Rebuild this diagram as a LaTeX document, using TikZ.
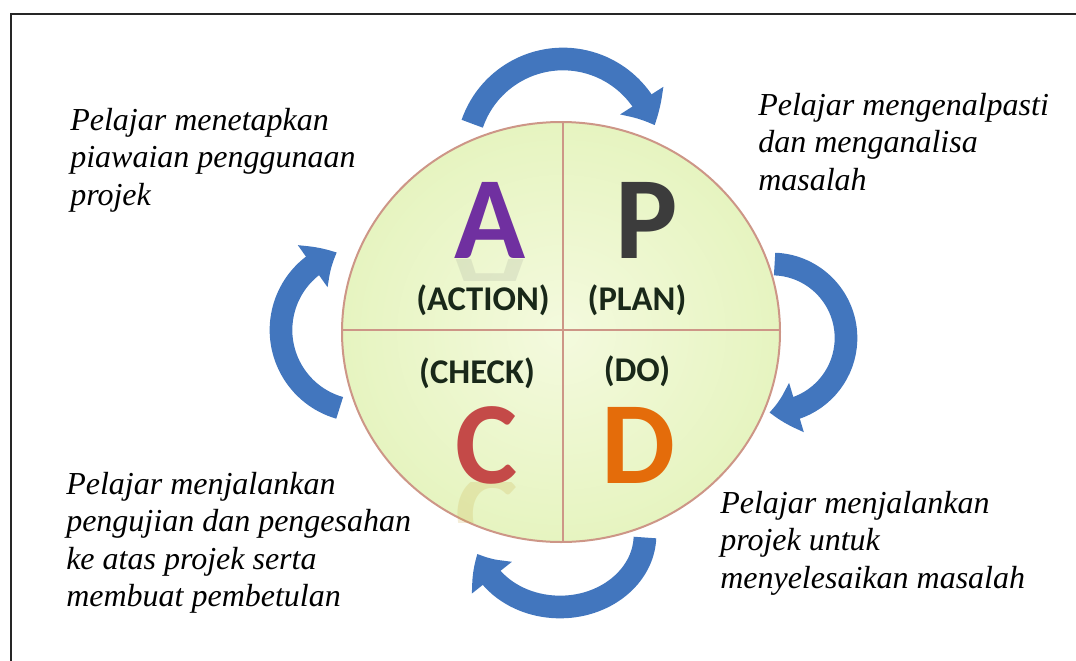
\documentclass[tikz,border=0pt]{standalone}
\usepackage{fontspec}
\setmainfont{Liberation Serif}
\newfontfamily\calib{Carlito}
\usetikzlibrary{arrows.meta,bending,calc,positioning}

\definecolor{cycblue}{RGB}{66,118,190}
\definecolor{ringc}{RGB}{205,150,135}
\definecolor{lime}{RGB}{230,244,192}
\definecolor{limein}{RGB}{244,250,222}
\definecolor{tagc}{RGB}{25,40,25}
\definecolor{actc}{RGB}{112,48,160}
\definecolor{planc}{RGB}{60,60,60}
\definecolor{chkc}{RGB}{196,74,72}
\definecolor{doc}{RGB}{228,108,10}

\begin{document}
\begin{tikzpicture}[x=0.75pt,y=-0.75pt]
	\tikzstyle{cyc} = [draw=cycblue, line width=17pt, -{Triangle[length=21pt,width=37pt,bend]}]
	\tikzstyle{note} = [font=\fontsize{24}{28}\selectfont\itshape, align=left, anchor=north west, inner sep=0pt]
	\tikzstyle{big} = [font=\calib\bfseries\fontsize{88}{88}\selectfont, inner sep=0pt]
	\tikzstyle{tag} = [font=\calib\bfseries\fontsize{26}{26}\selectfont, text=tagc, inner sep=0pt, anchor=base]
	
	\useasboundingbox (0,0) rectangle (1076,661);
	\draw[line width=1.5pt, black!85] (11,661) -- (11,14) -- (1076,14);
	
	% wheel
	\coordinate (mid) at (561,332);
	\shade[inner color=limein, outer color=lime] (mid) ellipse [x radius=219, y radius=210];
	\draw[ringc, line width=1.5pt] (mid) ellipse [x radius=219, y radius=210];
	\draw[ringc, line width=1.2pt] (563,122) -- (563,542);
	\draw[ringc, line width=1.2pt] (342,330) -- (780,330);
	
	% reflections
	\begin{scope}
		\clip (440,259) rectangle (540,280);
		\node[big, text=gray, opacity=0.15, yscale=-1] at (490,294) {A};
	\end{scope}
	\begin{scope}
		\clip (440,482) rectangle (540,522);
		\node[big, text=chkc!40!yellow!70!gray, opacity=0.2, yscale=-1] at (487,515) {C};
	\end{scope}
	
	\node[big, text=actc] (lA) at (490,220) {A};
	\node[big, text=planc] (lP) at (647,220) {P};
	\node[big, text=chkc] (lC) at (487,445) {C};
	\node[big, text=doc] (lD) at (638,445) {D};
	
	\node[tag] (tA) at (483,310) {(ACTION)};
	\node[tag] (tP) at (637,310) {(PLAN)};
	\node[tag] (tC) at (477,383) {(CHECK)};
	\node[tag] (tD) at (637,381) {(DO)};
	
	% cycle arrows
	\coordinate (ctop) at (563,155);
	\coordinate (crgt) at (772,338);
	\coordinate (cbot) at (560,535);
	\coordinate (clft) at (362,330);
	\coordinate (s1) at ($(ctop)+(199:96)$);
	\coordinate (s2) at ($(crgt)+(-88:74)$);
	\coordinate (s3) at ($(cbot)+(2:85 and 72)$);
	\coordinate (s4) at ($(clft)+(106:81)$);
	\draw[cyc] (s1) arc[start angle=199, end angle=342, radius=96];
	\draw[cyc] (s2) arc[start angle=-88, end angle=92, radius=74];
	\draw[cyc] (s3) arc[start angle=2, end angle=165, x radius=85, y radius=72];
	\draw[cyc] (s4) arc[start angle=106, end angle=252, radius=81];
	
	% notes
	\node[note] (nA) at (70,108) {Pelajar menetapkan\\piawaian penggunaan\\projek};
	\node[note] (nP) at (758,93) {Pelajar mengenalpasti\\dan menganalisa\\masalah};
	\node[note] (nD) at (720,491) {Pelajar menjalankan\\projek untuk\\menyelesaikan masalah};
	\node[note] (nC) at (66,472) {Pelajar menjalankan\\pengujian dan pengesahan\\ke atas projek serta\\membuat pembetulan};
\end{tikzpicture}
\end{document}
